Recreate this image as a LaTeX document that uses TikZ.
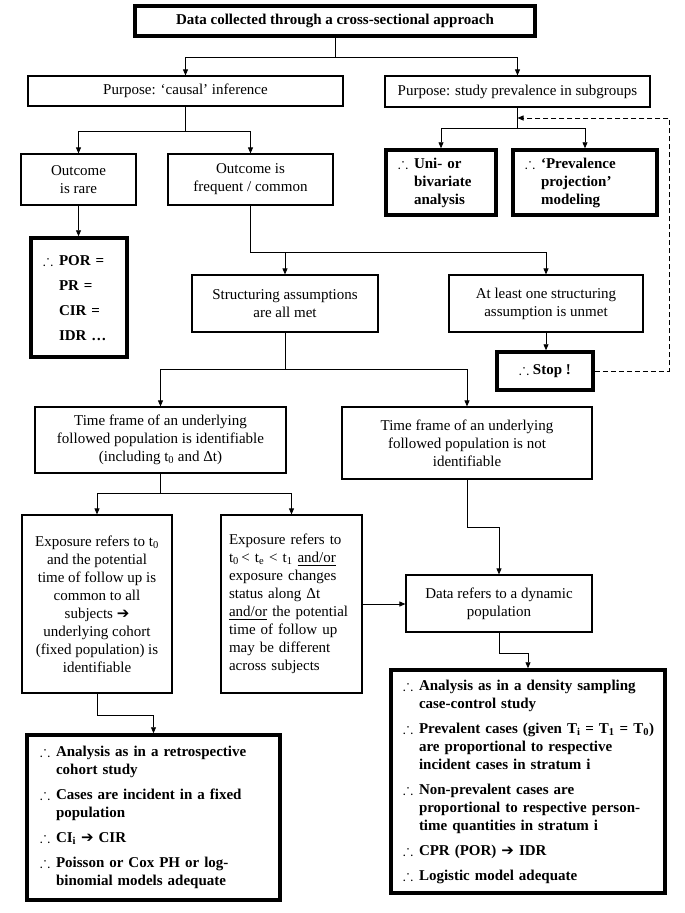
\documentclass[tikz,border=0pt]{standalone}
\usepackage{amssymb}
\usepackage{fontspec}
\setmainfont{Liberation Serif}
\newfontfamily\arrowfont{DejaVu Sans}
\usetikzlibrary{arrows.meta, calc}

\newcommand{\thf}{\makebox[16pt][l]{$\therefore$}}
\newcommand{\thi}{\hspace*{16pt}}
\newcommand{\rarr}{{\arrowfont\bfseries ➔}}

\begin{document}
\begin{tikzpicture}[x=1pt, y=-1pt,
    box/.style={draw, line width=1.2pt, align=center, inner sep=5pt,
        font=\fontsize{15}{18}\selectfont},
    boldbox/.style={box, line width=3.5pt, font=\fontsize{15}{18}\selectfont\bfseries},
    lbox/.style={align=left, inner xsep=12pt},
    link/.style={line width=0.8pt, -{Triangle[length=6pt,width=5pt]}}
]
\useasboundingbox (0,0) rectangle (685,913);

% first levels
\node[boldbox, minimum width=400pt, minimum height=30pt] (data) at (335,21)
    {Data collected through a cross-sectional approach};
\node[box, minimum width=315pt, minimum height=30pt] (causal) at (185.5,91)
    {Purpose: ‘causal’ inference};
\node[box, minimum width=265pt, minimum height=31pt] (subgr) at (517.5,91.5)
    {Purpose: study prevalence in subgroups};

\node[box, minimum width=115pt, minimum height=51pt] (rare) at (78.5,179.5)
    {Outcome\\is rare};
\node[box, minimum width=165pt, minimum height=51pt] (freq) at (250.5,179.5)
    {Outcome is\\frequent / common};
\node[boldbox, lbox, text width=86pt, minimum height=65pt] (uni) at (441,182.5)
    {\thf Uni- or\\\thi bivariate\\\thi analysis};
\node[boldbox, lbox, text width=120pt, minimum height=65pt] (proj) at (585,182.5)
    {\thf ‘Prevalence\\\thi projection’\\\thi modeling};

\node[boldbox, lbox, text width=72pt, minimum height=119pt] (por) at (79,297.5)
    {\thf POR =\\[7pt]\thi PR =\\[7pt]\thi CIR =\\[7pt]\thi IDR …};

% structuring assumptions
\node[box, minimum width=186pt, minimum height=57pt] (struct) at (285,303.5)
    {Structuring assumptions\\are all met};
\node[box, minimum width=194pt, minimum height=57pt] (unmet) at (546,303.5)
    {At least one structuring\\assumption is unmet};
\node[boldbox, minimum width=96pt, minimum height=38pt] (stop) at (545,371)
    {$\therefore$ Stop !};

% time frame
\node[box, minimum width=251pt, minimum height=66pt] (tfid) at (160.5,440)
    {Time frame of an underlying\\followed population is identifiable\\(including t\textsubscript{0} and Δt)};
\node[box, minimum width=250pt, minimum height=72pt] (tfnot) at (467,443)
    {Time frame of an underlying\\followed population is not\\identifiable};

\node[box, minimum width=150pt, minimum height=178pt] (expt0) at (97,604)
    {Exposure refers to t\textsubscript{0}\\and the potential\\time of follow up is\\common to all\\subjects \rarr\\underlying cohort\\(fixed population) is\\identifiable};
\node[box, align=left, inner xsep=8pt, text width=125pt, minimum height=178pt] (expte) at (291.5,604)
    {Exposure refers to\\t\textsubscript{0}\,< t\textsubscript{e} < t\textsubscript{1} \underline{and/or}\\exposure changes\\status along Δt\\\underline{and/or} the potential\\time of follow up\\may be different\\across subjects};
\node[box, minimum width=186pt, minimum height=57pt] (dyn) at (499,603.5)
    {Data refers to a dynamic\\population};

% conclusions
\node[boldbox, lbox, inner xsep=13pt, text width=227pt, minimum height=165pt] (retro) at (153.5,817.5)
    {\thf Analysis as in a retrospective\\\thi cohort study\\[7pt]
     \thf Cases are incident in a fixed\\\thi population\\[7pt]
     \thf CI\textsubscript{i} \rarr{} CIR\\[7pt]
     \thf Poisson or Cox PH or log-\\\thi binomial models adequate};
\node[boldbox, lbox, text width=250pt, minimum height=223pt] (dens) at (528,781.5)
    {\thf Analysis as in a density sampling\\\thi case-control study\\[7pt]
     \thf \mbox{Prevalent cases (given T\textsubscript{i} = T\textsubscript{1} = T\textsubscript{0})}\\\thi are proportional to respective\\\thi incident cases in stratum i\\[7pt]
     \thf Non-prevalent cases are\\\thi proportional to respective person-\\\thi time quantities in stratum i\\[7pt]
     \thf CPR (POR) \rarr{} IDR\\[7pt]
     \thf Logistic model adequate};

% connectors
\draw[link] (data.south) -- ++(0,20) -| (causal.north);
\draw[link] (data.south) -- ++(0,20) -| (subgr.north);
\draw[link] (causal.south) -- ++(0,25) -| (rare.north);
\draw[link] (causal.south) -- ++(0,25) -| (freq.north);
\draw[link] (subgr.south) -- ++(0,21) -| (uni.north);
\draw[link] (subgr.south) -- ++(0,21) -| (proj.north);
\draw[link] (rare.south) -- (rare.south |- por.north);
\draw[link] (freq.south) -- ++(0,47) -| (struct.north);
\draw[link] (freq.south) -- ++(0,47) -| (unmet.north);
\draw[link] (unmet.south) -- (unmet.south |- stop.north);
\draw[link] (struct.south) -- ++(0,37) -| (tfid.north);
\draw[link] (struct.south) -- ++(0,37) -| (tfnot.north);
\draw[link] (tfid.south) -- ++(0,20) -| (expt0.north);
\draw[link] (tfid.south) -- ++(0,20) -| (expte.north);
\draw[link] (tfnot.south) -- ++(0,48) -| (dyn.north);
\draw[link] (expte.east) -- (expte.east -| dyn.west);
\draw[link] (expt0.south) -- ++(0,22) -| (retro.north);
\draw[link] (dyn.south) -- ++(0,21) -| (dens.north);

% back to the subgroups
\coordinate (back) at (669,118);
\draw[link, dash pattern=on 5pt off 3pt] (stop.east) -| (back) -- (subgr.south |- back);
\end{tikzpicture}
\end{document}
